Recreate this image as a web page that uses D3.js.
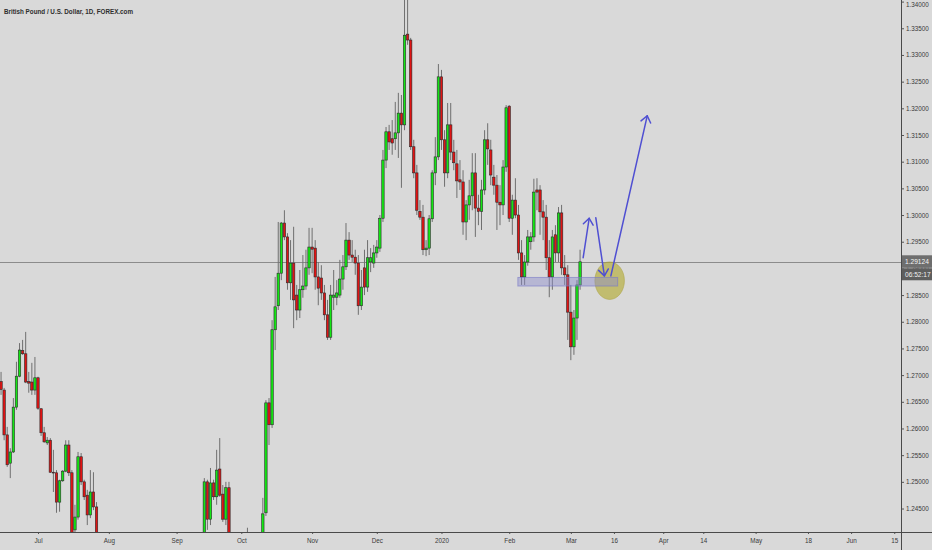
<!DOCTYPE html>
<html><head><meta charset="utf-8">
<script src="https://cdn.jsdelivr.net/npm/d3@7"></script>
<style>
html,body{margin:0;padding:0;background:#d9d9d9;}
svg{display:block;}
</style></head><body>
<svg id="c" width="932" height="550"></svg>
<script>
// ---- DATA (GBP/USD daily, FOREX.com) ----
// bar number = trading-day index counted from 1 Jul 2019 (bars fully below the view are omitted)
const barNo = [...d3.range(-12, 20), ...d3.range(54, 63), 68, ...d3.range(73, 177)];
const open = [
 1.2688,1.2672,1.2588,1.2535,1.2556,1.2640,1.2698,1.2746,1.2740,1.2688,1.2687,1.2672,1.2695,1.2637,1.2592,1.2573,
 1.2578,1.2518,1.2517,1.2462,1.2502,1.2520,1.2569,1.2517,1.2410,1.2434,1.2547,1.2500,1.2475,1.2438,1.2481,1.2453,
 1.2400,1.2500,1.2430,1.2498,1.2472,1.2524,1.2477,1.2430,1.2489,
 1.2382,
 1.2382,1.2442,1.2648,1.2607,1.2785,1.2830,1.2891,1.2985,1.2959,1.2873,1.2910,1.2850,1.2822,1.2860,1.2867,1.2901,
 1.2940,1.2938,1.2884,1.2882,1.2854,1.2813,1.2771,1.2846,1.2846,1.2850,1.2880,1.2903,1.2953,1.2925,1.2921,1.2910,
 1.2830,1.2901,1.2865,1.2912,1.2910,1.2929,1.2938,1.2994,1.3103,1.3156,1.3143,1.3143,1.3154,1.3191,1.3169,1.3339,
 1.3328,1.3128,1.3079,1.3007,1.2996,1.2935,1.2938,1.2993,1.3079,1.3109,1.3259,1.3141,1.3079,1.3169,1.3118,1.3096,
 1.3066,1.3062,1.2987,1.3019,1.3036,1.3079,1.3013,1.3007,1.3047,1.3141,1.3122,1.3071,1.3056,1.3024,1.3019,1.3090,
 1.3204,1.2994,1.3028,1.3000,1.2929,1.2884,1.2912,1.2950,1.2959,1.3047,1.3047,1.3006,1.2996,1.2920,1.2884,1.2963,
 1.2929,1.3004,1.2901,1.2888,1.2818,1.2753,1.2807,1.2869];
const high = [
 1.2706,1.2676,1.2603,1.2563,1.2657,1.2725,1.2760,1.2766,1.2781,1.2706,1.2723,1.2734,1.2697,1.2638,1.2603,1.2584,
 1.2582,1.2560,1.2522,1.2504,1.2522,1.2578,1.2578,1.2522,1.2457,1.2556,1.2554,1.2504,1.2485,1.2522,1.2518,1.2462,
 1.2507,1.2504,1.2526,1.2504,1.2560,1.2582,1.2494,1.2500,1.2500,
 1.2414,
 1.2470,1.2653,1.2657,1.2803,1.2884,1.2987,1.2987,1.3009,1.2966,1.2953,1.2978,1.2869,1.2897,1.2925,1.2935,1.2976,
 1.2976,1.2953,1.2912,1.2906,1.2869,1.2841,1.2869,1.2897,1.2878,1.2916,1.2925,1.2985,1.2968,1.2953,1.2935,1.2925,
 1.2897,1.2935,1.2953,1.2938,1.2944,1.2953,1.3000,1.3122,1.3165,1.3169,1.3178,1.3212,1.3229,1.3225,1.3514,1.3430,
 1.3332,1.3141,1.3094,1.3028,1.3019,1.2953,1.3000,1.3084,1.3146,1.3283,1.3272,1.3159,1.3210,1.3210,1.3141,1.3122,
 1.3103,1.3084,1.3028,1.3066,1.3116,1.3116,1.3038,1.3066,1.3159,1.3172,1.3141,1.3094,1.3075,1.3056,1.3103,1.3206,
 1.3206,1.3038,1.3069,1.3019,1.2953,1.2925,1.2972,1.2968,1.3068,1.3069,1.3056,1.3028,1.3019,1.2953,1.2972,1.2981,
 1.3015,1.3019,1.2925,1.2906,1.2869,1.2822,1.2878,1.2935];
const low = [
 1.2663,1.2578,1.2528,1.2507,1.2554,1.2635,1.2696,1.2738,1.2685,1.2667,1.2663,1.2663,1.2635,1.2586,1.2573,1.2569,
 1.2517,1.2481,1.2442,1.2444,1.2500,1.2518,1.2511,1.2382,1.2391,1.2429,1.2494,1.2466,1.2419,1.2432,1.2447,1.2354,
 1.2391,1.2410,1.2419,1.2466,1.2457,1.2472,1.2425,1.2419,1.2354,
 1.2354,
 1.2372,1.2436,1.2569,1.2601,1.2747,1.2822,1.2878,1.2953,1.2860,1.2841,1.2788,1.2803,1.2807,1.2845,1.2860,1.2888,
 1.2891,1.2860,1.2831,1.2841,1.2803,1.2766,1.2766,1.2822,1.2831,1.2845,1.2860,1.2897,1.2916,1.2912,1.2888,1.2813,
 1.2822,1.2850,1.2856,1.2893,1.2901,1.2920,1.2931,1.2987,1.3088,1.3122,1.3113,1.3122,1.3107,1.3051,1.3159,1.3319,
 1.3122,1.3069,1.3000,1.2991,1.2925,1.2923,1.2925,1.2987,1.3056,1.3103,1.3122,1.3053,1.3069,1.3103,1.3084,1.3032,
 1.3047,1.2963,1.2953,1.2991,1.3009,1.2959,1.2981,1.2972,1.3038,1.3094,1.3056,1.3038,1.2972,1.2981,1.3000,1.3081,
 1.2987,1.2963,1.2994,1.2916,1.2869,1.2869,1.2905,1.2935,1.2950,1.3009,1.2963,1.2953,1.2897,1.2846,1.2860,1.2912,
 1.2912,1.2888,1.2869,1.2766,1.2728,1.2738,1.2766,1.2860];
const close = [
 1.2673,1.2588,1.2532,1.2556,1.2640,1.2698,1.2747,1.2740,1.2687,1.2685,1.2672,1.2695,1.2638,1.2592,1.2575,1.2578,
 1.2518,1.2517,1.2462,1.2502,1.2520,1.2569,1.2517,1.2391,1.2434,1.2547,1.2500,1.2472,1.2438,1.2481,1.2453,1.2382,
 1.2500,1.2430,1.2498,1.2472,1.2522,1.2475,1.2430,1.2489,1.2382,
 1.2372,
 1.2440,1.2648,1.2607,1.2785,1.2828,1.2891,1.2985,1.2959,1.2873,1.2910,1.2841,1.2822,1.2860,1.2867,1.2901,1.2940,
 1.2936,1.2884,1.2863,1.2854,1.2813,1.2771,1.2850,1.2850,1.2854,1.2880,1.2903,1.2953,1.2925,1.2921,1.2910,1.2830,
 1.2865,1.2865,1.2920,1.2920,1.2929,1.2940,1.2994,1.3103,1.3156,1.3137,1.3135,1.3154,1.3191,1.3169,1.3337,1.3328,
 1.3128,1.3079,1.3009,1.2996,1.2935,1.2938,1.2993,1.3079,1.3109,1.3259,1.3141,1.3079,1.3169,1.3118,1.3098,1.3064,
 1.3062,1.2987,1.3019,1.3036,1.3079,1.3013,1.3007,1.3047,1.3141,1.3124,1.3075,1.3056,1.3024,1.3019,1.3090,1.3201,
 1.2994,1.3028,1.3000,1.2929,1.2884,1.2912,1.2959,1.2959,1.3043,1.3043,1.3006,1.2996,1.2920,1.2884,1.2959,1.2929,
 1.3004,1.2901,1.2888,1.2818,1.2753,1.2807,1.2869,1.29124];

const yTickValues = d3.range(1.245, 1.3401, 0.005);
const xTickLabels = ["Jul","Aug","Sep","Oct","Nov","Dec","2020","Feb","Mar","16","Apr","14","May","18","Jun","15"];
const xTickBars   = [0, 23, 45, 66, 89, 110, 131, 153, 173, 187, 203, 216, 233, 250, 264, 278];
const lastPrice = 1.29124;
const countdown = "06:52:17";
const title = "British Pound / U.S. Dollar, 1D, FOREX.com";
// drawings (bar number, price)
const zoneBars = [155.8, 188.2], zonePrices = [1.2867, 1.2883];
const circle = {bar: 185.6, price: 1.2877, rBars: 4.8, rPrice: 0.00352};
const arrows = [
  [[177.0, 1.2920], [178.96, 1.2994]],
  [[181.1, 1.2995], [183.9, 1.2886]],
  [[186.0, 1.2886], [197.8, 1.3186]]
];

// ---- CHART ----
const W = 932, H = 550, plotR = 901, plotB = 532;
const svg = d3.select('#c');
svg.append('rect').attr('width', W).attr('height', H).attr('fill', '#d9d9d9');

const x = d3.scaleLinear().domain([-12.34, 280.2]).range([0, plotR]);
const y = d3.scaleLinear().domain([1.2406, 1.3403]).range([plotB, 0]);

svg.append('clipPath').attr('id', 'clip').append('rect')
  .attr('x', 0).attr('y', 0).attr('width', plotR).attr('height', plotB);
const plot = svg.append('g').attr('clip-path', 'url(#clip)');

// last price line
plot.append('line').attr('x1', 0).attr('x2', plotR)
  .attr('y1', Math.round(y(lastPrice)) + 0.5).attr('y2', Math.round(y(lastPrice)) + 0.5)
  .attr('stroke', '#8c8c8c').attr('stroke-width', 1);

const bars = barNo.map((b, i) => ({b, o: open[i], h: high[i], l: low[i], c: close[i]}));
const cg = plot.append('g');
cg.selectAll('line.wick').data(bars).join('line').attr('class', 'wick')
  .attr('x1', d => x(d.b)).attr('x2', d => x(d.b))
  .attr('y1', d => y(d.h)).attr('y2', d => y(d.l))
  .attr('stroke', '#6f6f6f').attr('stroke-width', 1);
cg.selectAll('rect.body').data(bars).join('rect').attr('class', 'body')
  .attr('x', d => x(d.b) - 1.2).attr('width', 2.4)
  .attr('y', d => y(Math.max(d.o, d.c)))
  .attr('height', d => Math.max(0.8, Math.abs(y(d.o) - y(d.c))))
  .attr('fill', d => d.c >= d.o ? '#14e614' : '#e01414')
  .attr('stroke', '#2a2a2a').attr('stroke-width', 0.6);

// drawings
const pxPerBar = x(1) - x(0);
plot.append('ellipse')
  .attr('cx', x(circle.bar)).attr('cy', y(circle.price))
  .attr('rx', circle.rBars * pxPerBar).attr('ry', y(circle.price - circle.rPrice) - y(circle.price))
  .attr('fill', 'rgba(176,168,40,0.6)').attr('stroke', 'rgba(170,160,60,0.5)');
plot.append('rect')
  .attr('x', x(zoneBars[0])).attr('width', x(zoneBars[1]) - x(zoneBars[0]))
  .attr('y', y(zonePrices[1])).attr('height', y(zonePrices[0]) - y(zonePrices[1]))
  .attr('fill', 'rgba(140,140,205,0.45)').attr('stroke', 'rgba(120,120,200,0.6)').attr('stroke-width', 1);

const ag = plot.append('g').attr('stroke', '#4f4fd2').attr('stroke-width', 1.5)
  .attr('fill', 'none').attr('stroke-linecap', 'round').attr('stroke-linejoin', 'round');
arrows.forEach(([s, e]) => {
  const x1 = x(s[0]), y1 = y(s[1]), x2 = x(e[0]), y2 = y(e[1]);
  ag.append('line').attr('x1', x1).attr('y1', y1).attr('x2', x2).attr('y2', y2);
  const ang = Math.atan2(y1 - y2, x1 - x2), L = 8, a = 38 * Math.PI / 180;
  const p1 = [x2 + L * Math.cos(ang + a), y2 + L * Math.sin(ang + a)];
  const p2 = [x2 + L * Math.cos(ang - a), y2 + L * Math.sin(ang - a)];
  ag.append('path').attr('d', `M${p1[0]},${p1[1]}L${x2},${y2}L${p2[0]},${p2[1]}`);
});

// axes
const fontFam = "'Liberation Sans', Arial, sans-serif";
const yAxis = svg.append('g').attr('transform', `translate(${plotR},0)`)
  .call(d3.axisRight(y).tickValues(yTickValues).tickSize(3).tickPadding(2).tickFormat(d3.format('.5f')));
yAxis.select('.domain').remove();
yAxis.selectAll('line').attr('stroke', '#555');
yAxis.selectAll('text').attr('fill', '#3a3a3a').style('font-size', '6.3px').style('font-family', fontFam)
  .attr('y', d => Math.max(0, 4 - y(d)));

const xAxis = svg.append('g').attr('transform', `translate(0,${plotB})`)
  .call(d3.axisBottom(x).tickValues(xTickBars).tickSize(2).tickPadding(5).tickFormat((d, i) => xTickLabels[i]));
xAxis.select('.domain').remove();
xAxis.selectAll('line').attr('stroke', '#555');
xAxis.selectAll('text').attr('fill', '#3a3a3a').style('font-size', '6.3px').style('font-family', fontFam);

svg.append('line').attr('x1', 0).attr('x2', W).attr('y1', plotB + 0.5).attr('y2', plotB + 0.5)
  .attr('stroke', '#4a4a4a').attr('stroke-width', 1.2);
svg.append('line').attr('x1', plotR + 0.5).attr('x2', plotR + 0.5).attr('y1', 0).attr('y2', H)
  .attr('stroke', '#4a4a4a').attr('stroke-width', 1);

// price label + countdown
const ly = y(lastPrice);
svg.append('rect').attr('x', plotR + 1).attr('y', ly - 6.5).attr('width', W - plotR - 1).attr('height', 12.5).attr('fill', '#6e6e6e');
svg.append('text').attr('x', plotR + 4).attr('y', ly + 2.2).text(d3.format('.5f')(lastPrice))
  .attr('fill', '#f4f4f4').style('font-size', '6.6px').style('font-family', fontFam);
svg.append('rect').attr('x', plotR + 1).attr('y', ly + 6.5).attr('width', W - plotR - 1).attr('height', 12).attr('fill', '#5e5e5e');
svg.append('text').attr('x', plotR + 4).attr('y', ly + 14.8).text(countdown)
  .attr('fill', '#f0f0f0').style('font-size', '6.6px').style('font-family', fontFam);

// title
svg.append('text').attr('x', 4).attr('y', 13.5).text(title)
  .attr('fill', '#2e2e2e').style('font-size', '8px').style('font-weight', 'bold').style('font-family', fontFam)
  .attr('textLength', 129).attr('lengthAdjust', 'spacingAndGlyphs');
</script>
</body></html>
